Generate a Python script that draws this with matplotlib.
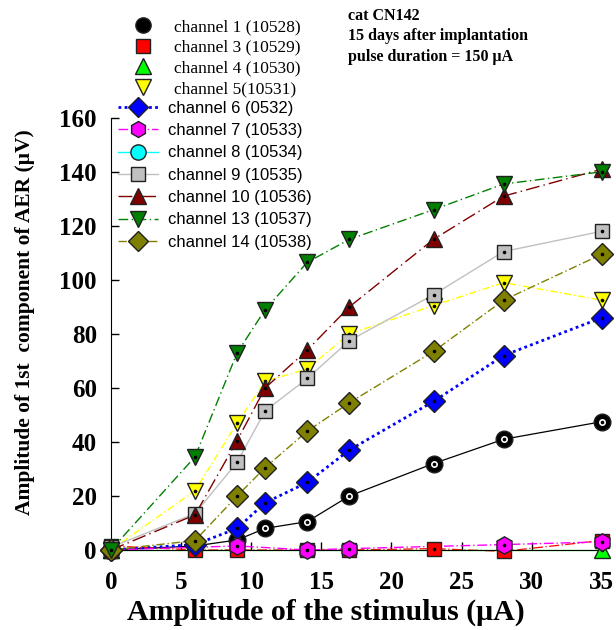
import numpy as np
import matplotlib
matplotlib.use("Agg")
import matplotlib.pyplot as plt
from matplotlib.lines import Line2D

nan = np.nan

# stimulus amplitudes (uA)
stim = np.array([0, 6, 9, 11, 14, 17, 23, 28, 35])

# amplitude of 1st component of AER (uV)
# (nan where no point can be seen)
ch1 = [0, 1.5, 3.7, 8, 10.5, 20, 32, 41, 47.5]
ch3 = [1.5, 0, 0, nan, 0, 0, 0.5, -0.5, 3.5]
ch4 = [0, nan, nan, nan, nan, nan, nan, nan, 0]
ch5 = [0, 22, 47, 62.5, 67, 80, 90.5, 99, 92.5]
ch6 = [0, 2, 8, 17.5, 25, 37, 55, 72, 86]
ch7 = [0, nan, 1.5, nan, 0, 0.5, nan, 2, 3]
ch8 = [-0.3, nan, nan, nan, nan, nan, nan, nan, nan]
ch9 = [1, 13.5, 32.5, 51.5, 63.5, 77.5, 94.5, 110.5, 118]
ch10 = [0, 13, 40.5, 60, 74, 90, 115, 131, 141]
ch13 = [0, 34.5, 73, 89, 106.5, 115, 126, 135.5, 140]
ch14 = [0, 3.5, 20, 30.5, 44, 54.5, 73.5, 92.5, 109.5]

labels = ["channel 1 (10528)", "channel 3 (10529)", "channel 4 (10530)",
          "channel 5(10531)", "channel 6 (0532)", "channel 7 (10533)",
          "channel 8 (10534)", "channel 9 (10535)", "channel 10 (10536)",
          "channel 13 (10537)", "channel 14 (10538)"]

serif = "Liberation Serif"
sans = "Liberation Sans"

# (data, marker, face, line colour, line style, line width, legend has line)
series = [
    (ch1, "o", "black", "black", "-", 0.9, False),
    (ch3, "s", "red", "red", (0, (8, 2, 1, 2)), 0.9, False),
    (ch4, "^", "#00ff00", "#00ff00", "-", 0.9, False),
    (ch5, "v", "yellow", "yellow", (0, (5, 2, 1, 2)), 1.0, False),
    (ch6, "D", "blue", "blue", (0, (1, 1.2)), 2.0, True),
    (ch7, "h", "magenta", "magenta", (0, (7, 2, 1, 2)), 1.0, True),
    (ch8, "o", "cyan", "cyan", "-", 1.0, True),
    (ch9, "s", "#c0c0c0", "#c0c0c0", "-", 1.0, True),
    (ch10, "^", "#800000", "#800000", (0, (10, 3, 1, 3)), 1.0, True),
    (ch13, "v", "green", "green", (0, (7, 2.5, 1, 2.5)), 1.0, True),
    (ch14, "D", "olive", "olive", (0, (6, 2, 1, 2)), 1.0, True),
]
msizes = {"o": 12, "s": 10.5, "^": 12, "v": 12, "D": 11.5, "h": 12.5}

fig = plt.figure(figsize=(6.16, 6.30), dpi=100)
ax = fig.add_axes([0.180, 0.127, 0.797, 0.686])

handles = []
for k, (data, mk, face, col, ls, lw, legline) in enumerate(series):
    ms = msizes[mk]
    d = np.array(data, dtype=float)
    ok = ~np.isnan(d)
    # lines under the axis line, markers above
    ax.plot(stim[ok], d[ok], color=col, linestyle=ls, linewidth=lw,
            clip_on=False, zorder=2)
    z = 3 + k * 0.01
    if k == 9:  # channel 13 sits on top
        z = 3.5
    ax.plot(stim, d, linestyle="none", marker=mk, markersize=ms,
            markerfacecolor=face, markeredgecolor="#202020",
            markeredgewidth=1.0, clip_on=False, zorder=z)
    if face == "black":
        ax.plot(stim, d, linestyle="none", marker="o", markersize=4,
                markerfacecolor="white", markeredgecolor="white",
                clip_on=False, zorder=z + 0.001)
    ax.plot(stim, d, linestyle="none", marker="o", markersize=1.6,
            markerfacecolor="black", markeredgecolor="black",
            clip_on=False, zorder=z + 0.002)
    handles.append(Line2D([], [], color=col, linestyle=ls if legline else "none",
                          linewidth=lw, marker=mk, markersize=ms - 1,
                          markerfacecolor=face, markeredgecolor="#202020"))

ax.set_xlim(0, 35)
ax.set_ylim(0, 160)
ax.set_xticks(np.arange(0, 36, 5))
ax.set_yticks(np.arange(0, 161, 20))
ax.spines["top"].set_visible(False)
ax.spines["right"].set_visible(False)
ax.tick_params(direction="in", length=6, width=1)
ax.tick_params(axis="x", pad=15)
ax.tick_params(axis="y", pad=10)
for t in ax.get_xticklabels() + ax.get_yticklabels():
    t.set_fontfamily(serif)
    t.set_fontweight("bold")
    t.set_fontsize(18)

ax.set_xlabel("Amplitude of the stimulus (\u03bcA)", fontfamily=serif,
              fontweight="bold", fontsize=21.5)
ax.xaxis.set_label_coords(0.438, -0.112)
ax.set_ylabel("Amplitude of 1st  component of AER (\u03bcV)", fontfamily=serif,
              fontweight="bold", fontsize=15.5)
ax.yaxis.set_label_coords(-0.155, 0.528)

# two legend blocks: serif entries without lines, sans entries with lines
leg1 = fig.legend(handles[:4], labels[:4], loc="upper left",
                  bbox_to_anchor=(0.198, 0.970), frameon=False,
                  handlelength=2.4, handletextpad=0.6, labelspacing=0.26,
                  prop={"family": serif, "size": 12.5}, borderaxespad=0,
                  borderpad=0)
leg2 = fig.legend(handles[4:], labels[4:], loc="upper left",
                  bbox_to_anchor=(0.191, 0.840), frameon=False,
                  handlelength=2.4, handletextpad=0.6, labelspacing=0.44,
                  prop={"family": sans, "size": 12}, borderaxespad=0,
                  borderpad=0)

fig.text(0.565, 0.988, "cat CN142\n15 days after implantation\npulse duration = 150 \u03bcA",
         fontfamily=serif, fontweight="bold", fontsize=11.5, va="top", ha="left",
         linespacing=1.38)

fig.savefig("out.png", dpi=100)
